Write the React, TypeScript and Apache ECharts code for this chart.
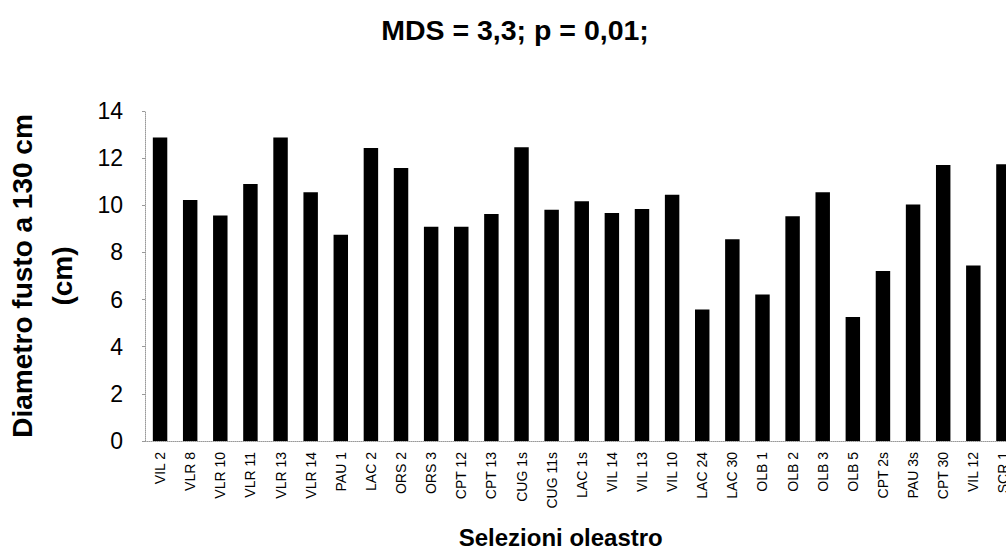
import React, { useEffect, useRef } from "react";
import * as echarts from "echarts";

const titleText = "MDS = 3,3; p = 0,01;";
const yAxisTitle = "Diametro fusto a 130 cm\n(cm)";
const xAxisTitle = "Selezioni oleastro";

const categories = [
  "VIL 2", "VLR 8", "VLR 10", "VLR 11", "VLR 13", "VLR 14", "PAU 1", "LAC 2",
  "ORS 2", "ORS 3", "CPT 12", "CPT 13", "CUG 1s", "CUG 11s", "LAC 1s", "VIL 14",
  "VIL 13", "VIL 10", "LAC 24", "LAC 30", "OLB 1", "OLB 2", "OLB 3", "OLB 5",
  "CPT 2s", "PAU 3s", "CPT 30", "VIL 12", "SCR 1",
];

const values = [
  12.88, 10.22, 9.57, 10.9, 12.88, 10.55, 8.75, 12.43,
  11.58, 9.09, 9.09, 9.63, 12.46, 9.81, 10.17, 9.67,
  9.84, 10.45, 5.58, 8.56, 6.21, 9.53, 10.55, 5.26,
  7.21, 10.03, 11.71, 7.45, 11.74,
];

const yMin = 0;
const yMax = 14;
const yStep = 2;

const FONT = "'Liberation Sans', Arial, sans-serif";

export default function App() {
  const ref = useRef<HTMLDivElement>(null);

  useEffect(() => {
    document.body.style.margin = "0";
    document.body.style.overflow = "hidden";
    if (!ref.current) return;
    const chart = echarts.init(ref.current, null, { renderer: "svg" });
    chart.setOption({
      animation: false,
      backgroundColor: "#ffffff",
      title: {
        text: titleText,
        left: 510,
        top: 10,
        textAlign: "center",
        textStyle: {
          fontFamily: FONT,
          fontWeight: "bold",
          fontSize: 28.5,
          color: "#000",
        },
      },
      grid: {
        left: 145,
        top: 111,
        bottom: 110,
        right: -12.5,
        containLabel: false,
        outerBoundsMode: "none",
      },
      xAxis: {
        type: "category",
        data: categories,
        name: xAxisTitle,
        nameLocation: "middle",
        nameGap: 84,
        nameTextStyle: {
          fontFamily: FONT,
          fontWeight: "bold",
          fontSize: 24,
          color: "#000",
          padding: [0, 42, 0, 0],
        },
        axisLine: {
          show: true,
          lineStyle: { color: "#999", type: "dotted", width: 1 },
        },
        axisTick: { show: false },
        axisLabel: {
          rotate: 90,
          interval: 0,
          margin: 11,
          fontFamily: FONT,
          fontSize: 14,
          color: "#000",
        },
      },
      yAxis: {
        type: "value",
        min: yMin,
        max: yMax,
        interval: yStep,
        name: yAxisTitle,
        nameLocation: "middle",
        nameRotate: 90,
        nameGap: 63,
        nameTextStyle: {
          fontFamily: FONT,
          fontWeight: "bold",
          fontSize: 28,
          lineHeight: 40,
          color: "#000",
        },
        axisLine: {
          show: true,
          lineStyle: { color: "#999", type: "dotted", width: 1 },
        },
        axisTick: {
          show: true,
          length: 3,
          lineStyle: { color: "#999" },
        },
        splitLine: { show: false },
        axisLabel: {
          margin: 22,
          fontFamily: FONT,
          fontSize: 23,
          color: "#000",
        },
      },
      series: [
        {
          type: "bar",
          data: values,
          barWidth: "48%",
          itemStyle: { color: "#000" },
        },
      ],
    });
    return () => chart.dispose();
  }, []);

  return <div ref={ref} style={{ width: 1006, height: 551 }} />;
}
